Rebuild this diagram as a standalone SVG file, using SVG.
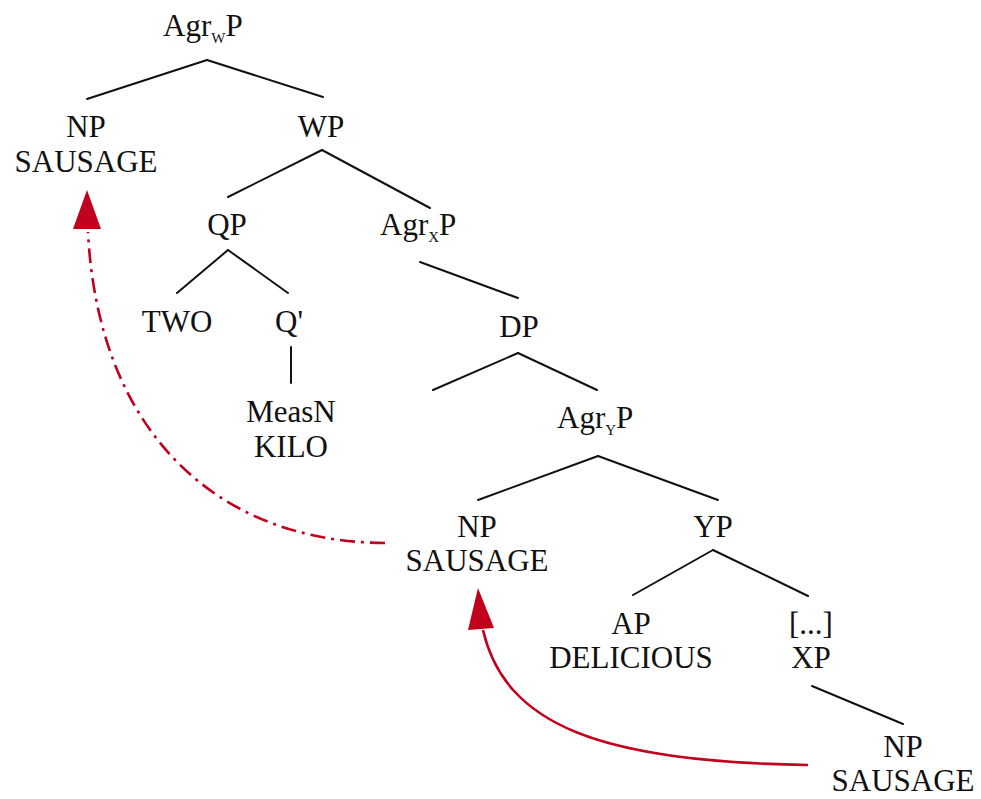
<svg xmlns="http://www.w3.org/2000/svg" width="981" height="799" viewBox="0 0 981 799">
<defs>
<style>
text{font-family:"Liberation Serif","Times New Roman",serif;font-size:31px;fill:#111;text-anchor:middle}
.sub{font-size:15px}
.e{stroke:#111;stroke-width:2;fill:none;stroke-linecap:round}
.mv{stroke:#c0001c;stroke-width:2.6;fill:none}
.dd{stroke-dasharray:15 6 3 6}
</style>
</defs>
<rect width="981" height="799" fill="#fff"/>
<g id="connectors">
<line class="e" x1="207" y1="60" x2="87" y2="99"/>
<line class="e" x1="207" y1="60" x2="323" y2="97"/>
<line class="e" x1="322" y1="150" x2="228" y2="197"/>
<line class="e" x1="322" y1="150" x2="430" y2="208"/>
<line class="e" x1="228" y1="250" x2="177" y2="293"/>
<line class="e" x1="228" y1="250" x2="288" y2="293"/>
<line class="e" x1="291" y1="347" x2="291" y2="383"/>
<line class="e" x1="420" y1="262" x2="518" y2="298"/>
<line class="e" x1="518" y1="353" x2="433" y2="390"/>
<line class="e" x1="518" y1="353" x2="597" y2="390"/>
<line class="e" x1="598" y1="456" x2="478" y2="500"/>
<line class="e" x1="598" y1="456" x2="718" y2="500"/>
<line class="e" x1="713" y1="550" x2="633" y2="595"/>
<line class="e" x1="713" y1="550" x2="808" y2="596"/>
<line class="e" x1="812" y1="686" x2="903" y2="724"/>
<path class="mv" d="M808,765 C600,762 505,725 483,630"/>
<path d="M478,588 L468,630 L494,628 z" fill="#c0001c"/>
<path class="mv dd" d="M385,543 C215,542 98,430 88,232"/>
<path d="M87,190 L73,229 L101,229 z" fill="#c0001c"/>
</g>
<g id="n-agrw"><text style="text-anchor:start" x="163" y="36">Agr<tspan class="sub" dy="7">W</tspan><tspan dy="-7">P</tspan></text></g>
<g id="n-np1"><text x="86" y="137">NP</text><text x="86" y="172">SAUSAGE</text></g>
<g id="n-wp"><text x="321" y="137">WP</text></g>
<g id="n-qp"><text x="227" y="235">QP</text></g>
<g id="n-agrx"><text style="text-anchor:start" x="380" y="235">Agr<tspan class="sub" dy="7">X</tspan><tspan dy="-7">P</tspan></text></g>
<g id="n-two"><text x="177" y="332">TWO</text></g>
<g id="n-qbar"><text x="289" y="332">Q'</text></g>
<g id="n-measn"><text x="291" y="422">MeasN</text><text x="291" y="457">KILO</text></g>
<g id="n-dp"><text x="519" y="337">DP</text></g>
<g id="n-agry"><text style="text-anchor:start" x="557" y="428">Agr<tspan class="sub" dy="7">Y</tspan><tspan dy="-7">P</tspan></text></g>
<g id="n-np2"><text x="477" y="537">NP</text><text x="477" y="571">SAUSAGE</text></g>
<g id="n-yp"><text x="713" y="537">YP</text></g>
<g id="n-ap"><text x="631" y="634">AP</text><text x="631" y="668">DELICIOUS</text></g>
<g id="n-xp"><text x="811" y="634">[...]</text><text x="811" y="668">XP</text></g>
<g id="n-np3"><text x="903" y="757">NP</text><text x="903" y="791">SAUSAGE</text></g>
</svg>
